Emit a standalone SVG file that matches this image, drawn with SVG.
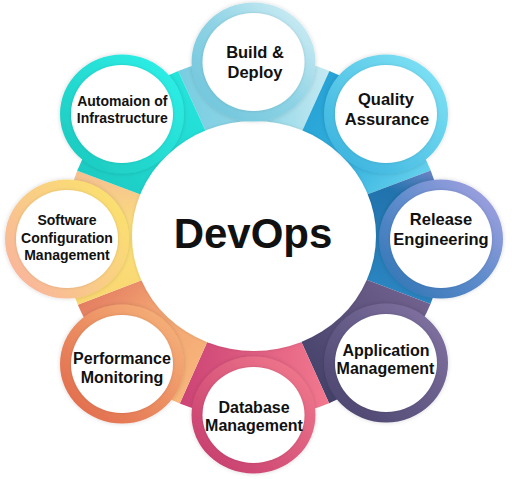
<svg xmlns="http://www.w3.org/2000/svg" width="512" height="479" viewBox="0 0 512 479">
  <style>
    .lbl { font-family: "Liberation Sans", Arial, sans-serif; font-weight: bold; fill: #111; text-anchor: middle; }
    .s16 { font-size: 16.5px; }
    .s14 { font-size: 14px; }
    .inner { fill: #fff; filter: url(#shi); }
    .outer { filter: url(#sh); }
  </style>
  <defs>
    <filter id="sh" x="-20%" y="-20%" width="140%" height="140%">
      <feDropShadow dx="0" dy="0" stdDeviation="2" flood-color="#000" flood-opacity="0.16"/>
    </filter>
    <filter id="shi" x="-20%" y="-20%" width="140%" height="140%">
      <feDropShadow dx="0" dy="0" stdDeviation="1.6" flood-color="#000" flood-opacity="0.14"/>
    </filter>
    <linearGradient id="wBuild" gradientUnits="userSpaceOnUse" x1="178" y1="71" x2="329" y2="71">
      <stop offset="0" stop-color="#79cde1"/><stop offset="0.6" stop-color="#95d8e8"/><stop offset="1" stop-color="#c4e9f2"/>
    </linearGradient>
    <linearGradient id="wQual" gradientUnits="userSpaceOnUse" x1="320" y1="90" x2="420" y2="175">
      <stop offset="0" stop-color="#27a3d6"/><stop offset="0.5" stop-color="#33b0de"/><stop offset="1" stop-color="#62cfec"/>
    </linearGradient>
    <linearGradient id="wRel" gradientUnits="userSpaceOnUse" x1="445" y1="165" x2="395" y2="300">
      <stop offset="0" stop-color="#8289cc"/><stop offset="0.3" stop-color="#2173ad"/><stop offset="1" stop-color="#2b86c1"/>
    </linearGradient>
    <linearGradient id="wApp" gradientUnits="userSpaceOnUse" x1="430" y1="300" x2="330" y2="400">
      <stop offset="0" stop-color="#72628f"/><stop offset="1" stop-color="#45426a"/>
    </linearGradient>
    <linearGradient id="wDb" gradientUnits="userSpaceOnUse" x1="329" y1="400" x2="180" y2="400">
      <stop offset="0" stop-color="#f2788e"/><stop offset="1" stop-color="#cc4375"/>
    </linearGradient>
    <linearGradient id="wPerf" gradientUnits="userSpaceOnUse" x1="180" y1="400" x2="78" y2="300">
      <stop offset="0" stop-color="#f7b67b"/><stop offset="0.6" stop-color="#f1a070"/><stop offset="1" stop-color="#e27a60"/>
    </linearGradient>
    <linearGradient id="wSoft" gradientUnits="userSpaceOnUse" x1="78" y1="305" x2="77" y2="171">
      <stop offset="0" stop-color="#f9d670"/><stop offset="0.55" stop-color="#fbe07a"/><stop offset="1" stop-color="#f5bf92"/>
    </linearGradient>
    <linearGradient id="wAuto" gradientUnits="userSpaceOnUse" x1="77" y1="171" x2="178" y2="71">
      <stop offset="0" stop-color="#1ccbc2"/><stop offset="1" stop-color="#25e4dc"/>
    </linearGradient>
    <linearGradient id="rBuild" x1="0" y1="1" x2="1" y2="0">
      <stop offset="0" stop-color="#6ac3da"/><stop offset="0.5" stop-color="#8fd3e5"/><stop offset="1" stop-color="#dbf2f7"/>
    </linearGradient>
    <linearGradient id="rQual" x1="0" y1="1" x2="1" y2="0">
      <stop offset="0" stop-color="#34aedc"/><stop offset="1" stop-color="#86e7f7"/>
    </linearGradient>
    <linearGradient id="rRel" x1="0" y1="1" x2="1" y2="0">
      <stop offset="0" stop-color="#2a72b2"/><stop offset="0.5" stop-color="#5f8ccc"/><stop offset="1" stop-color="#b0a5e4"/>
    </linearGradient>
    <linearGradient id="rApp" x1="0" y1="1" x2="1" y2="0">
      <stop offset="0" stop-color="#46426a"/><stop offset="1" stop-color="#8676a6"/>
    </linearGradient>
    <linearGradient id="rDb" x1="0" y1="1" x2="1" y2="0">
      <stop offset="0" stop-color="#c2386b"/><stop offset="1" stop-color="#f47e90"/>
    </linearGradient>
    <linearGradient id="rPerf" x1="0" y1="1" x2="1" y2="0">
      <stop offset="0" stop-color="#df6448"/><stop offset="1" stop-color="#f8b97e"/>
    </linearGradient>
    <linearGradient id="rSoft" x1="0" y1="1" x2="1" y2="0.2">
      <stop offset="0" stop-color="#f9aea2"/><stop offset="0.5" stop-color="#f9cb88"/><stop offset="1" stop-color="#fbe26c"/>
    </linearGradient>
    <linearGradient id="rAuto" x1="0" y1="1" x2="1" y2="0">
      <stop offset="0" stop-color="#1bc6bb"/><stop offset="1" stop-color="#30f3eb"/>
    </linearGradient>
  </defs>

  <rect width="512" height="479" fill="#fff"/>

  <g id="connectors">
    <path d="M254 237 L178.2 71.0 A190 181 0 0 1 329.4 70.9 Z" fill="url(#wBuild)"/>
    <path d="M254 237 L329.4 70.9 A190 181 0 0 1 430.7 170.4 Z" fill="url(#wQual)"/>
    <path d="M254 237 L430.7 170.4 A190 181 0 0 1 430.5 303.9 Z" fill="url(#wRel)"/>
    <path d="M254 237 L430.5 303.9 A190 181 0 0 1 329.1 403.2 Z" fill="url(#wApp)"/>
    <path d="M254 237 L329.1 403.2 A190 181 0 0 1 179.8 403.6 Z" fill="url(#wDb)"/>
    <path d="M254 237 L179.8 403.6 A190 181 0 0 1 77.8 304.8 Z" fill="url(#wPerf)"/>
    <path d="M254 237 L77.8 304.8 A190 181 0 0 1 77.2 170.7 Z" fill="url(#wSoft)"/>
    <path d="M254 237 L77.2 170.7 A190 181 0 0 1 178.2 71.0 Z" fill="url(#wAuto)"/>
  </g>

  <g id="center">
    <ellipse cx="254" cy="236" rx="122" ry="115" fill="#fff" filter="url(#shi)"/>
    <text class="lbl" x="253" y="248" style="font-size:42px">DevOps</text>
  </g>

  <g id="build">
    <ellipse class="outer" cx="253.5" cy="62" rx="62" ry="59.5" fill="url(#rBuild)"/>
    <ellipse class="inner" cx="253.5" cy="62" rx="51" ry="49"/>
    <text class="lbl s16" x="255" y="57.5">Build &amp;</text>
    <text class="lbl s16" x="255" y="78">Deploy</text>
  </g>

  <g id="quality">
    <ellipse class="outer" cx="386" cy="114" rx="62" ry="59.5" fill="url(#rQual)"/>
    <ellipse class="inner" cx="386" cy="114" rx="51" ry="49"/>
    <text class="lbl s16" x="386" y="105">Quality</text>
    <text class="lbl s16" x="387" y="125">Assurance</text>
  </g>

  <g id="release">
    <ellipse class="outer" cx="441" cy="239" rx="62" ry="59.5" fill="url(#rRel)"/>
    <ellipse class="inner" cx="441" cy="239" rx="51" ry="49"/>
    <text class="lbl s16" x="441" y="224.5">Release</text>
    <text class="lbl s16" x="441" y="245">Engineering</text>
  </g>

  <g id="application">
    <ellipse class="outer" cx="386" cy="363" rx="62" ry="59.5" fill="url(#rApp)"/>
    <ellipse class="inner" cx="386" cy="363" rx="51" ry="49"/>
    <text class="lbl" x="386" y="355.7" style="font-size:16px">Application</text>
    <text class="lbl" x="385.5" y="374" style="font-size:16px">Management</text>
  </g>

  <g id="database">
    <ellipse class="outer" cx="253.5" cy="415" rx="62" ry="58.5" fill="url(#rDb)"/>
    <ellipse class="inner" cx="253.5" cy="415" rx="51" ry="48"/>
    <text class="lbl" x="254" y="412.7" style="font-size:16px">Database</text>
    <text class="lbl" x="254" y="430.7" style="font-size:16px">Management</text>
  </g>

  <g id="performance">
    <ellipse class="outer" cx="122" cy="364" rx="62" ry="59.5" fill="url(#rPerf)"/>
    <ellipse class="inner" cx="122" cy="364" rx="51" ry="49"/>
    <text class="lbl" x="122" y="364" style="font-size:16px">Performance</text>
    <text class="lbl" x="122" y="382.5" style="font-size:16px">Monitoring</text>
  </g>

  <g id="software">
    <ellipse class="outer" cx="67" cy="239" rx="62" ry="59.5" fill="url(#rSoft)"/>
    <ellipse class="inner" cx="67" cy="239" rx="51" ry="49"/>
    <text class="lbl s14" x="67" y="225">Software</text>
    <text class="lbl s14" x="67" y="242.7">Configuration</text>
    <text class="lbl s14" x="67" y="260">Management</text>
  </g>

  <g id="automation">
    <ellipse class="outer" cx="122" cy="114" rx="62" ry="59.5" fill="url(#rAuto)"/>
    <ellipse class="inner" cx="122" cy="114" rx="51" ry="49"/>
    <text class="lbl s14" x="122.3" y="106">Automaion of</text>
    <text class="lbl s14" x="122.3" y="123.3">Infrastructure</text>
  </g>
</svg>
